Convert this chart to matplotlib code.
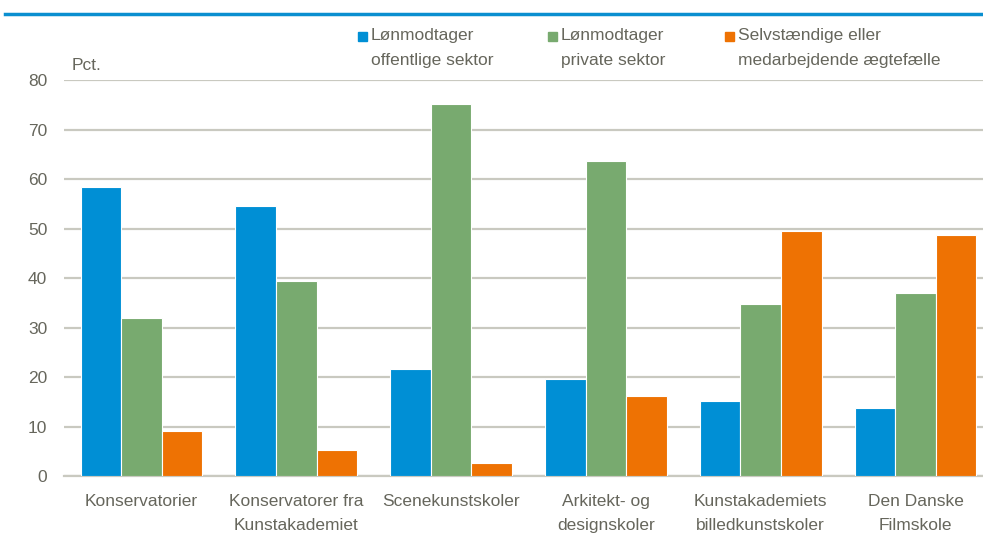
import matplotlib.pyplot as plt
import numpy as np
from matplotlib import font_manager

# ---- data ----
categories = [
    "Konservatorier",
    "Konservatorer fra\nKunstakademiet",
    "Scenekunstskoler",
    "Arkitekt- og\ndesignskoler",
    "Kunstakademiets\nbilledkunstskoler",
    "Den Danske\nFilmskole",
]
offentlig = [58.4, 54.7, 21.6, 19.6, 15.2, 13.8]
privat = [32.0, 39.4, 75.2, 63.8, 34.8, 37.1]
selvstaendig = [9.2, 5.3, 2.6, 16.1, 49.5, 48.7]
series_labels = [
    "Lønmodtager\noffentlige sektor",
    "Lønmodtager\nprivate sektor",
    "Selvstændige eller\nmedarbejdende ægtefælle",
]
yticks = [0, 10, 20, 30, 40, 50, 60, 70, 80]

# ---- style ----
names = {f.name for f in font_manager.fontManager.ttflist}
family = ["Liberation Sans Narrow"] if "Liberation Sans Narrow" in names else ["Liberation Sans"]
plt.rcParams["font.family"] = family + ["DejaVu Sans"]

colors = ["#008fd5", "#78aa6f", "#ee7203"]
grey_txt = "#66665c"
grid_col = "#c9c9c0"

W, H = 983, 535
fig = plt.figure(figsize=(W / 100, H / 100), dpi=100)
# y: 0 at 476 px, 80 at 80.7 px (from top); a bit of headroom so the top gridline shows
ax = fig.add_axes([64 / W, 59 / H, 929 / W, 396.5 / H])

x = np.arange(len(categories))
width = 0.262
for i, vals in enumerate([offentlig, privat, selvstaendig]):
    ax.bar(x + (i - 1) * width, vals, width, color=colors[i],
           edgecolor="white", linewidth=0.8, zorder=3)

ax.set_xlim(-0.5, len(categories) - 0.5)
ax.set_ylim(0, 80.2)
ax.set_yticks(yticks)
ax.yaxis.grid(True, color=grid_col, linewidth=1.6, zorder=0)
ax.set_axisbelow(True)
for s in ["top", "right", "left"]:
    ax.spines[s].set_visible(False)
ax.spines["bottom"].set_color(grid_col)
ax.spines["bottom"].set_linewidth(1.6)
ax.tick_params(axis="y", length=0, pad=12, labelsize=12.5, labelcolor=grey_txt)
ax.tick_params(axis="x", length=0, pad=13, labelsize=12.5, labelcolor=grey_txt)
ax.set_xticks(x)
ax.set_xticklabels(categories, linespacing=1.75)

fig.text(72 / W, 1 - 66 / H, "Pct.", fontsize=12.5,
         color=grey_txt, ha="left", va="center")

# legend drawn as squares with two-line text
leg_x = [358, 548, 725]
for i, lab in enumerate(series_labels):
    fig.patches.append(plt.Rectangle(((leg_x[i]) / W, 1 - 41 / H), 9 / W, 9 / H,
                                     transform=fig.transFigure, color=colors[i]))
    fig.text((leg_x[i] + 13) / W, 1 - 28 / H, lab, fontsize=12.5, color=grey_txt,
             ha="left", va="top", linespacing=1.8)

# blue header line
fig.add_artist(plt.Line2D([5 / W, 1], [1 - 14 / H, 1 - 14 / H], color="#0a8fd0",
                          linewidth=2.5, transform=fig.transFigure))

fig.savefig("out.png", dpi=100)
